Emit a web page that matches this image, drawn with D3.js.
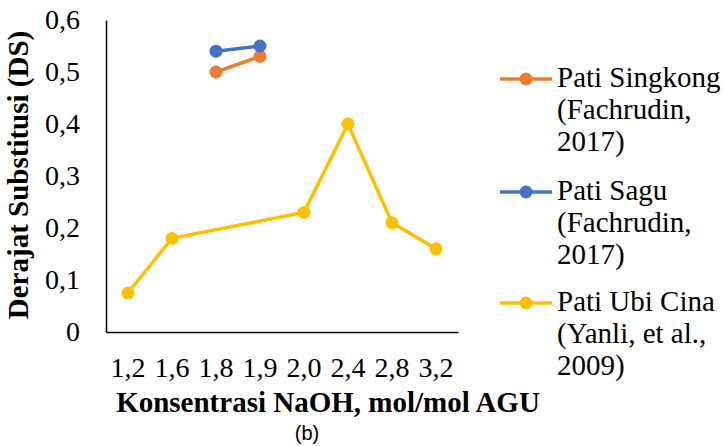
<!DOCTYPE html>
<html>
<head>
<meta charset="utf-8">
<script src="https://cdn.jsdelivr.net/npm/d3@7"></script>
<style>
  body { margin: 0; background: #fff; }
</style>
</head>
<body>
<div id="chart"></div>
<script>
// categories on the x axis (NaOH concentration)
var categories = ["1,2", "1,6", "1,8", "1,9", "2,0", "2,4", "2,8", "3,2"];

// series values
var singkong = [{x: "1,8", y: 0.50}, {x: "1,9", y: 0.53}];
var sagu = [{x: "1,8", y: 0.54}, {x: "1,9", y: 0.55}];
var ubiCina = [
  {x: "1,2", y: 0.075}, {x: "1,6", y: 0.18}, {x: "2,0", y: 0.23},
  {x: "2,4", y: 0.40}, {x: "2,8", y: 0.21}, {x: "3,2", y: 0.16}
];

var yTicks = [0, 0.1, 0.2, 0.3, 0.4, 0.5, 0.6];

var series = [
  {name: ["Pati Singkong", "(Fachrudin,", "2017)"], color: "#ED7D31", data: singkong},
  {name: ["Pati Sagu", "(Fachrudin,", "2017)"], color: "#4472C4", data: sagu},
  {name: ["Pati Ubi Cina", "(Yanli, et al.,", "2009)"], color: "#FFC000", data: ubiCina}
];

var serif = "'Liberation Serif', 'Times New Roman', serif";

var width = 726, height = 446;
var margin = {top: 20, left: 106, right: 268, bottom: 114};

var svg = d3.select("#chart").append("svg")
    .attr("width", width)
    .attr("height", height);

var x = d3.scaleBand()
    .domain(categories)
    .range([margin.left, width - margin.right]);

var y = d3.scaleLinear()
    .domain([0, 0.6])
    .range([height - margin.bottom, margin.top]);

var fmt = function(d) { return d === 0 ? "0" : d3.format(".1f")(d).replace(".", ","); };

// y axis
var yAxis = svg.append("g")
    .attr("transform", "translate(" + margin.left + ",0)")
    .call(d3.axisLeft(y).tickValues(yTicks).tickSize(0).tickPadding(26).tickFormat(fmt));
yAxis.select(".domain").attr("stroke", "#000").attr("stroke-width", 1.5);
yAxis.selectAll("text").style("font-family", serif).style("font-size", "28px").attr("fill", "#000");

// x axis
var xAxis = svg.append("g")
    .attr("transform", "translate(0," + (height - margin.bottom) + ")")
    .call(d3.axisBottom(x).tickSize(0).tickPadding(25));
xAxis.select(".domain").attr("stroke", "#000").attr("stroke-width", 1.5);
xAxis.selectAll("text").style("font-family", serif).style("font-size", "28px").attr("fill", "#000");

// lines and markers
var line = d3.line()
    .x(function(d) { return x(d.x) + x.bandwidth() / 2; })
    .y(function(d) { return y(d.y); });

series.forEach(function(s) {
  svg.append("path")
    .datum(s.data)
    .attr("d", line)
    .attr("fill", "none")
    .attr("stroke", s.color)
    .attr("stroke-width", 3.5);
  svg.selectAll(null)
    .data(s.data)
    .enter().append("circle")
    .attr("cx", function(d) { return x(d.x) + x.bandwidth() / 2; })
    .attr("cy", function(d) { return y(d.y); })
    .attr("r", 6.5)
    .attr("fill", s.color);
});

// axis titles
svg.append("text")
    .attr("transform", "translate(28,175) rotate(-90)")
    .attr("text-anchor", "middle")
    .style("font-family", serif)
    .style("font-size", "29px")
    .style("font-weight", "bold")
    .text("Derajat Substitusi (DS)");

svg.append("text")
    .attr("x", 328)
    .attr("y", 412)
    .attr("text-anchor", "middle")
    .style("font-family", serif)
    .style("font-size", "29px")
    .style("font-weight", "bold")
    .text("Konsentrasi NaOH, mol/mol AGU");

svg.append("text")
    .attr("x", 307)
    .attr("y", 440)
    .attr("text-anchor", "middle")
    .style("font-family", "'Liberation Sans', Arial, sans-serif")
    .style("font-size", "20px")
    .text("(b)");

// legend
var legend = svg.append("g");
var legendTop = [79, 192, 303];
series.forEach(function(s, i) {
  var g = legend.append("g").attr("transform", "translate(0," + legendTop[i] + ")");
  g.append("line")
    .attr("x1", 500).attr("x2", 552)
    .attr("stroke", s.color).attr("stroke-width", 3.5);
  g.append("circle").attr("cx", 526).attr("r", 6.5).attr("fill", s.color);
  s.name.forEach(function(t, j) {
    g.append("text")
      .attr("x", 557)
      .attr("y", 8 + j * 32)
      .style("font-family", serif)
      .style("font-size", "29px")
      .text(t);
  });
});
</script>
</body>
</html>
